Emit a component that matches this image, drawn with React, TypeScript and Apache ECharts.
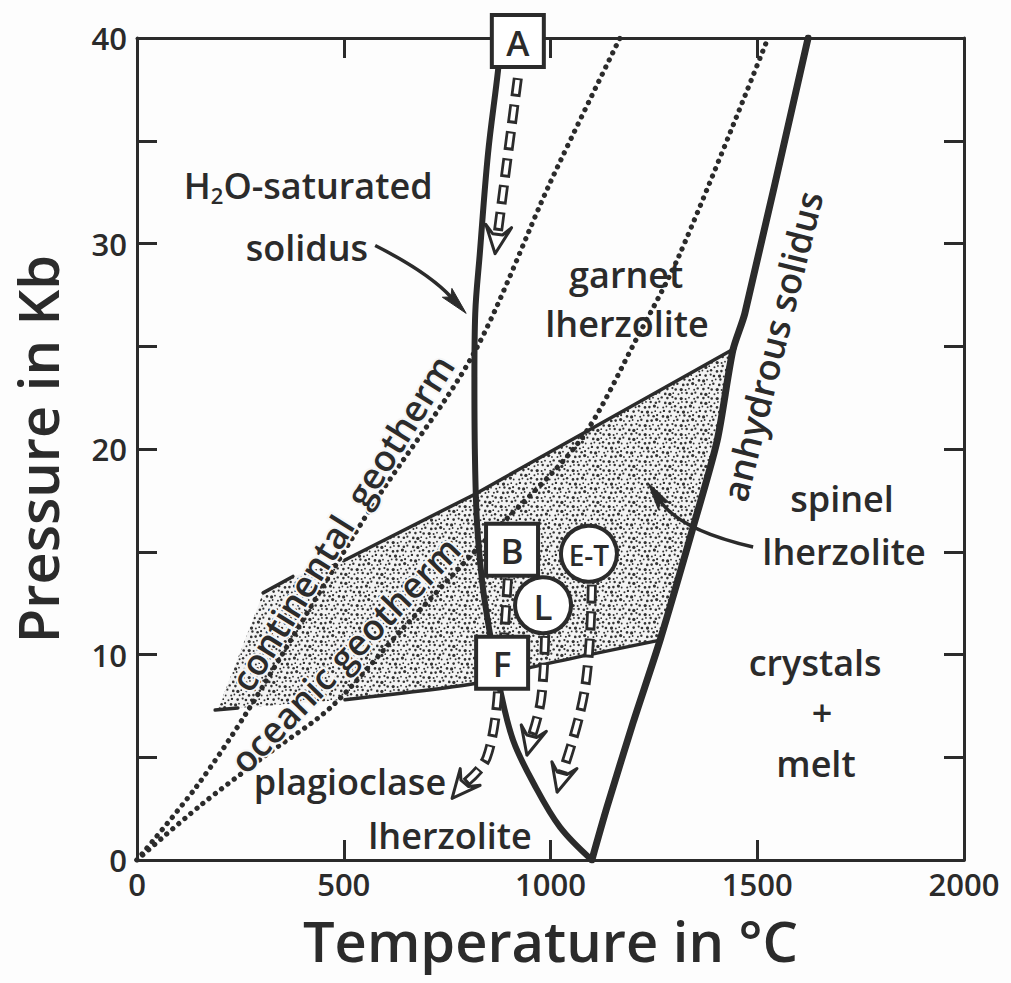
import React, { useEffect, useRef } from 'react';
import * as echarts from 'echarts';

const INK = '#2b2b2b';
const PAPER = '#fdfdfd';
const FONT = '"Open Sans", "DejaVu Sans", sans-serif';

// Axis ranges (°C, kb)
const tempMin = 0;
const tempMax = 2000;
const tempStep = 500;
const pressureMin = 0;
const pressureMax = 40;
const pressureStep = 5;
const pressureLabelled = [0, 10, 20, 30, 40];

// Phase boundaries and geotherms, [temperature °C, pressure kb]
const h2oSaturatedSolidus = [
  [1100, 0], [1023, 1.6], [960, 3.7], [910, 5.8], [878, 8.3], [852, 11.2], [835, 13.5],
  [822, 16.5], [817, 20], [816, 23.5], [818, 26.6], [829, 29.5], [849, 34.4], [873, 38.4], [880, 40],
];
const anhydrousSolidus = [
  [1100, 0], [1137, 2.6], [1200, 6.7], [1265, 10.7], [1345, 16.2], [1403, 20.4], [1441, 24.8],
  [1470, 26.6], [1623, 40],
];
const continentalGeotherm = [
  [0, 0], [145, 3.6], [266, 7.2], [568, 17.2], [813, 24.6], [1000, 33], [1168, 40],
];
const oceanicGeotherm = [
  [0, 0], [150, 2.6], [305, 5.0], [467, 7.4], [640, 11.2], [830, 15.3], [1071, 20.4],
  [1209, 25.4], [1313, 29.5], [1526, 40],
];

// Spinel lherzolite field (stippled) and its drawn edges
const spinelField = [
  [305, 13.0], [377, 13.8], [503, 14.6], [817, 17.8], [1446, 24.9], [1403, 20.4], [1345, 16.2],
  [1265, 10.7], [958, 9.4], [822, 8.6], [503, 7.8], [244, 7.4], [195, 7.3],
];
const garnetSpinelEdgeA = [[305, 13.0], [377, 13.8]];
const garnetSpinelEdgeB = [[503, 14.6], [817, 17.8], [1446, 24.9]];
const plagSpinelEdgeA = [[189, 7.3], [244, 7.4]];
const plagSpinelEdgeB = [[503, 7.8], [822, 8.6], [958, 9.4], [1265, 10.7]];

// Source regions
const markerLabels = ['A', 'B', 'F', 'L', 'E-T'];
const markerT = [921, 907, 883, 982, 1093];
const markerP = [39.85, 15.1, 9.6, 12.4, 14.9];
const markerRound = [false, false, false, true, true];

// Adiabatic ascent paths (hollow dashed arrows)
const ascentPaths = [
  [[921, 38.05], [866, 29.5]],
  [[897, 13.7], [888, 10.9]],
  [[873, 8.2], [846, 5.0], [762, 3.0]],
  [[987, 10.9], [977, 7.8], [943, 5.1]],
  [[1100, 13.4], [1083, 8.3], [1016, 3.3]],
];
const ascentHasHead = [true, false, true, true, true];

// Leader arrows from labels
const leaderStart = [[576, 29.9], [1490, 15.23]];
const leaderControl = [[704, 28.6], [1313, 16.06]];
const leaderEnd = [[796, 26.6], [1236, 18.35]];

// Field and curve labels
const labelTexts = [
  'H2O-saturated', 'solidus', 'garnet', 'lherzolite', 'anhydrous solidus', 'spinel', 'lherzolite',
  'crystals', '+', 'melt', 'continental  geotherm', 'oceanic geotherm', 'plagioclase', 'lherzolite',
];
const labelT = [414, 411, 1183, 1185, 1536, 1705, 1710, 1640, 1657, 1642, 496, 503, 515, 757];
const labelP = [32.8, 29.8, 28.5, 26.1, 25.0, 17.6, 15.0, 9.6, 7.2, 4.7, 16.4, 10.0, 3.8, 1.2];
const labelAngle = [0, 0, 0, 0, 76, 0, 0, 0, 0, 0, 58, 46, 0, 0];
const labelHalo = [false, false, false, false, false, false, false, false, false, false, true, true, false, false];

function makeStipple(): string {
  const size = 36;
  const step = 4.5;
  const c = document.createElement('canvas');
  c.width = size;
  c.height = size;
  const ctx = c.getContext('2d');
  if (!ctx) return '';
  ctx.fillStyle = '#f3f3f3';
  ctx.fillRect(0, 0, size, size);
  ctx.fillStyle = '#333333';
  const radii = [1.0, 1.3, 0.9, 1.2, 1.6, 1.0, 1.3, 0.9, 1.1];
  const jitter = [0.6, -0.5, 0.2, -0.8, 0.4, 0.9, -0.3, 0.7, -0.6, 0.1, -0.9, 0.5];
  let k = 0;
  const n = Math.round(size / step);
  for (let row = 0; row < n; row++) {
    for (let col = 0; col < n; col++) {
      const x = col * step + (row % 2 ? step / 2 : 0) + jitter[k % jitter.length] + 1;
      const y = row * step + jitter[(k + 5) % jitter.length] + 2;
      const r = radii[(k * 7 + row) % radii.length];
      k++;
      for (const ox of [-size, 0, size]) {
        for (const oy of [-size, 0, size]) {
          ctx.beginPath();
          ctx.arc(x + ox, y + oy, r, 0, Math.PI * 2);
          ctx.fill();
        }
      }
    }
  }
  return c.toDataURL();
}

const axisBase = {
  type: 'value' as const,
  splitLine: { show: false },
  axisLine: { show: true, onZero: false, lineStyle: { color: INK, width: 3 } },
  axisTick: { show: true, inside: true, length: 20, lineStyle: { color: INK, width: 3 } },
};

export default function App() {
  const ref = useRef<HTMLDivElement>(null);

  useEffect(() => {
    if (!ref.current) return;
    const chart = echarts.init(ref.current, null, { renderer: 'svg' });
    const stipple = makeStipple();

    const lineSeries = (data: number[][], width: number, dotted: boolean, smooth: number, z: number) => ({
      type: 'line',
      data,
      smooth,
      showSymbol: false,
      symbol: 'none',
      z,
      silent: true,
      lineStyle: dotted
        ? { color: INK, width: 5.2, type: [0.1, 7.8], cap: 'round' }
        : { color: INK, width, cap: 'round', join: 'round' },
    });

    const option: any = {
      animation: false,
      backgroundColor: PAPER,
      grid: { left: 137, right: 47, top: 38, bottom: 123 },
      xAxis: [
        {
          ...axisBase,
          min: tempMin,
          max: tempMax,
          interval: tempStep,
          position: 'bottom',
          name: 'Temperature in °C',
          nameLocation: 'middle',
          nameGap: 52,
          nameTextStyle: { color: INK, fontSize: 56, fontFamily: FONT, fontWeight: 600 },
          axisLabel: {
            color: INK,
            fontSize: 31,
            fontFamily: FONT,
            fontWeight: 600,
            margin: 8,
            formatter: (v: number) => String(v),
          },
        },
        {
          ...axisBase,
          min: tempMin,
          max: tempMax,
          interval: tempStep,
          position: 'top',
          axisLabel: { show: false },
        },
      ],
      yAxis: [
        {
          ...axisBase,
          min: pressureMin,
          max: pressureMax,
          interval: pressureStep,
          position: 'left',
          name: 'Pressure in Kb',
          nameLocation: 'middle',
          nameGap: 72,
          nameRotate: 90,
          nameTextStyle: { color: INK, fontSize: 56, fontFamily: FONT, fontWeight: 600 },
          axisLabel: {
            color: INK,
            fontSize: 31,
            fontFamily: FONT,
            fontWeight: 600,
            margin: 10,
            formatter: (v: number) => (pressureLabelled.includes(v) ? String(v) : ''),
          },
        },
        {
          ...axisBase,
          min: pressureMin,
          max: pressureMax,
          interval: pressureStep,
          position: 'right',
          axisLabel: { show: false },
        },
      ],
      series: [
        {
          type: 'custom',
          z: 1,
          silent: true,
          data: [[spinelField[0][0], spinelField[0][1]]],
          renderItem: (_p: any, api: any) => ({
            type: 'polygon',
            shape: { points: spinelField.map((pt) => api.coord(pt)) },
            style: {
              fill: stipple
                ? { image: stipple, repeat: 'repeat', imageWidth: 36, imageHeight: 36 }
                : '#c8c8c8',
              stroke: 'none',
            },
          }),
        },
        lineSeries(garnetSpinelEdgeA, 3.5, false, 0, 2),
        lineSeries(garnetSpinelEdgeB, 3.5, false, 0, 2),
        lineSeries(plagSpinelEdgeA, 3.5, false, 0, 2),
        lineSeries(plagSpinelEdgeB, 3.5, false, 0.2, 2),
        lineSeries(continentalGeotherm, 0, true, 0.3, 3),
        lineSeries(oceanicGeotherm, 0, true, 0.3, 3),
        lineSeries(h2oSaturatedSolidus, 6, false, 0.35, 4),
        lineSeries(anhydrousSolidus, 7, false, 0.25, 4),
        {
          // hollow dashed ascent arrows
          type: 'custom',
          z: 5,
          silent: true,
          clip: false,
          data: ascentPaths.map((p, i) => [p[0][0], p[0][1], i]),
          renderItem: (params: any, api: any) => {
            const i = params.dataIndex;
            const pts: number[][] = ascentPaths[i].map((pt) => api.coord(pt));
            const n = pts.length;
            let shaft = pts;
            const children: any[] = [];
            let head: any = null;
            if (ascentHasHead[i]) {
              const tip = pts[n - 1];
              const prev = pts[n - 2];
              const dx = tip[0] - prev[0];
              const dy = tip[1] - prev[1];
              const len = Math.hypot(dx, dy) || 1;
              const ux = dx / len;
              const uy = dy / len;
              const nx = -uy;
              const ny = ux;
              const L = 28;
              const W = 26;
              const neck = L * 0.7;
              const at = (d: number, s: number) => [tip[0] - ux * d + nx * s, tip[1] - uy * d + ny * s];
              shaft = [...pts.slice(0, n - 1), at(neck, 0)];
              head = {
                type: 'polygon',
                shape: { points: [tip, at(L, W / 2), at(neck, 5), at(neck, -5), at(L, -W / 2)] },
                style: { fill: '#ffffff', stroke: INK, lineWidth: 3, lineJoin: 'round' },
              };
            }
            children.push({
              type: 'polyline',
              shape: { points: shaft, smooth: 0.4 },
              style: { stroke: INK, lineWidth: 10, lineDash: [19, 8], fill: 'none' },
            });
            children.push({
              type: 'polyline',
              shape: { points: shaft, smooth: 0.4 },
              style: { stroke: '#ffffff', lineWidth: 4.5, lineDash: [14, 13], lineDashOffset: -2.5, fill: 'none' },
            });
            if (head) children.push(head);
            return { type: 'group', children };
          },
        },
        {
          // leader arrows from labels
          type: 'custom',
          z: 5,
          silent: true,
          data: leaderStart.map((p, i) => [p[0], p[1], i]),
          renderItem: (params: any, api: any) => {
            const i = params.dataIndex;
            const s = api.coord(leaderStart[i]);
            const c = api.coord(leaderControl[i]);
            const e = api.coord(leaderEnd[i]);
            const dx = e[0] - c[0];
            const dy = e[1] - c[1];
            const len = Math.hypot(dx, dy) || 1;
            const ux = dx / len;
            const uy = dy / len;
            const L = 28;
            const W = 13;
            const b = [e[0] - ux * L, e[1] - uy * L];
            return {
              type: 'group',
              children: [
                {
                  type: 'bezierCurve',
                  shape: { x1: s[0], y1: s[1], cpx1: c[0], cpy1: c[1], x2: b[0] + ux * 6, y2: b[1] + uy * 6 },
                  style: { stroke: INK, lineWidth: 3.5, fill: 'none' },
                },
                {
                  type: 'polygon',
                  shape: {
                    points: [
                      e,
                      [b[0] - uy * W / 2, b[1] + ux * W / 2],
                      [e[0] - ux * L * 0.8, e[1] - uy * L * 0.8],
                      [b[0] + uy * W / 2, b[1] - ux * W / 2],
                    ],
                  },
                  style: { fill: INK, stroke: INK, lineWidth: 1 },
                },
              ],
            };
          },
        },
        {
          // source region markers
          type: 'custom',
          z: 6,
          silent: true,
          clip: false,
          data: markerT.map((t, i) => [t, markerP[i], i]),
          renderItem: (params: any, api: any) => {
            const i = params.dataIndex;
            const [x, y] = api.coord([api.value(0), api.value(1)]);
            const frame = markerRound[i]
              ? { type: 'circle', shape: { cx: x, cy: y, r: 28 } }
              : { type: 'rect', shape: { x: x - 26, y: y - 26, width: 52, height: 52 } };
            return {
              type: 'group',
              children: [
                { ...frame, style: { fill: '#ffffff', stroke: INK, lineWidth: 4 } },
                {
                  type: 'text',
                  x,
                  y: y + 1,
                  style: {
                    text: markerLabels[i],
                    fill: INK,
                    fontSize: markerLabels[i].length > 1 ? 28 : 35,
                    fontFamily: FONT,
                    fontWeight: 600,
                    align: 'center',
                    verticalAlign: 'middle',
                  },
                },
              ],
            };
          },
        },
        {
          // field and curve labels
          type: 'custom',
          z: 7,
          silent: true,
          clip: false,
          data: labelT.map((t, i) => [t, labelP[i], i]),
          renderItem: (params: any, api: any) => {
            const i = params.dataIndex;
            const [x, y] = api.coord([api.value(0), api.value(1)]);
            const base: any = {
              fill: INK,
              fontSize: 36,
              fontFamily: FONT,
              fontWeight: 600,
              align: 'center',
              verticalAlign: 'middle',
            };
            let style: any = { ...base, text: labelTexts[i] };
            if (i === 0) {
              style = {
                ...base,
                text: '{m|H}{s|2}{m|O-saturated}',
                rich: {
                  m: { fill: INK, fontSize: 36, fontFamily: FONT, fontWeight: 600, lineHeight: 40 },
                  s: { fill: INK, fontSize: 22, fontFamily: FONT, fontWeight: 600, lineHeight: 12, verticalAlign: 'bottom' },
                },
              };
            }
            if (labelHalo[i]) {
              style.stroke = '#f6f6f6';
              style.lineWidth = 4;
            }
            return {
              type: 'text',
              x,
              y,
              rotation: (labelAngle[i] * Math.PI) / 180,
              style,
            };
          },
        },
      ],
    };

    chart.setOption(option);
    return () => chart.dispose();
  }, []);

  return (
    <div
      ref={ref}
      style={{ position: 'fixed', left: 0, top: 0, width: 1011, height: 983, background: PAPER }}
    />
  );
}
